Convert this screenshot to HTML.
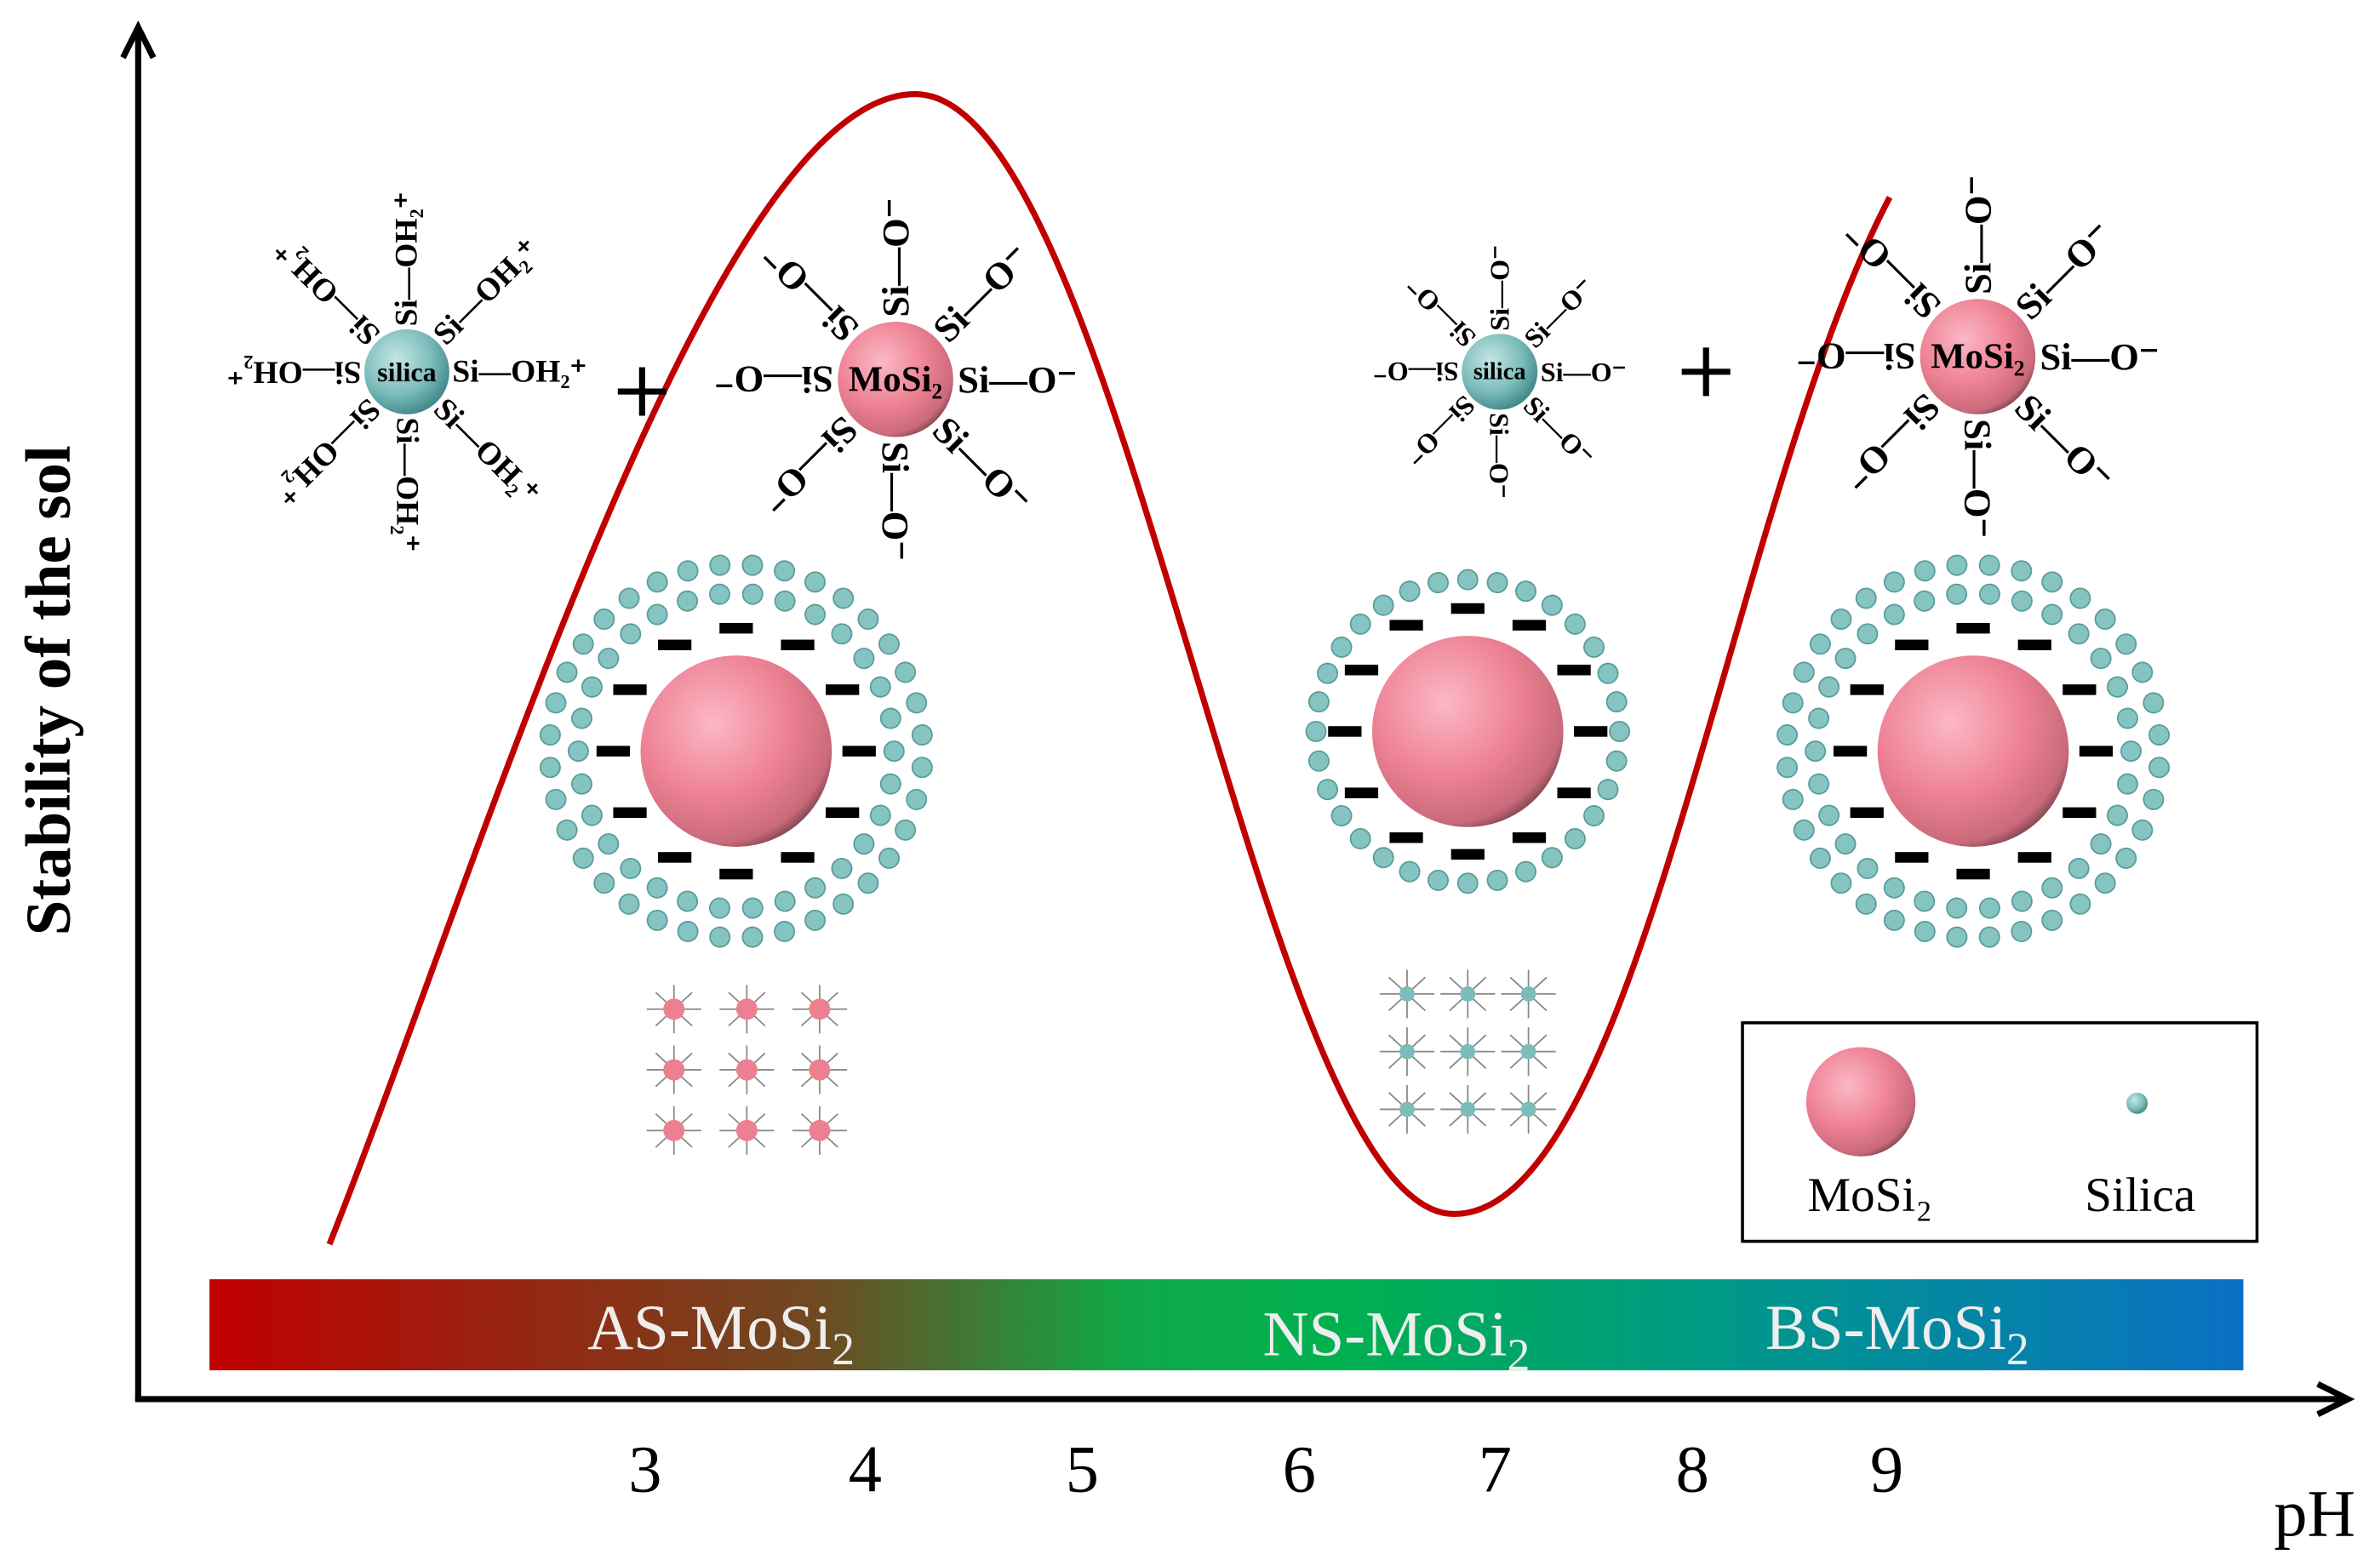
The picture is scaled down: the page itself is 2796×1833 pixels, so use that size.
<!DOCTYPE html>
<html><head><meta charset="utf-8">
<style>html,body{margin:0;padding:0;background:#fff}svg{display:block}
text{font-family:"Liberation Serif",serif}</style></head>
<body>
<svg xmlns="http://www.w3.org/2000/svg" xmlns:xlink="http://www.w3.org/1999/xlink" width="2796" height="1833" viewBox="0 0 1568 1028">
<defs>
<linearGradient id="bar" x1="0" x2="1" y1="0" y2="0">
<stop offset="0" stop-color="#c00000"/>
<stop offset="0.3" stop-color="#6e4a22"/>
<stop offset="0.45" stop-color="#10a848"/>
<stop offset="0.56" stop-color="#00b050"/>
<stop offset="0.76" stop-color="#00968c"/>
<stop offset="1" stop-color="#0a70c4"/>
</linearGradient>
<radialGradient id="pk" cx="0.38" cy="0.35" r="0.7">
<stop offset="0" stop-color="#fbb8c6"/>
<stop offset="0.55" stop-color="#ee8294"/>
<stop offset="0.9" stop-color="#c96a7a"/>
<stop offset="1" stop-color="#7e4450"/>
</radialGradient>
<radialGradient id="tl" cx="0.38" cy="0.35" r="0.7">
<stop offset="0" stop-color="#c4e6e4"/>
<stop offset="0.6" stop-color="#7bbcbb"/>
<stop offset="1" stop-color="#3e8486"/>
</radialGradient>
<circle id="dot" r="6.5" fill="#86c4c2" stroke="#5a9c9c" stroke-width="1"/>
<g id="r104">
<use href="#dot" transform="rotate(0) translate(104,0)"/><use href="#dot" transform="rotate(12) translate(104,0)"/><use href="#dot" transform="rotate(24) translate(104,0)"/><use href="#dot" transform="rotate(36) translate(104,0)"/><use href="#dot" transform="rotate(48) translate(104,0)"/><use href="#dot" transform="rotate(60) translate(104,0)"/><use href="#dot" transform="rotate(72) translate(104,0)"/><use href="#dot" transform="rotate(84) translate(104,0)"/><use href="#dot" transform="rotate(96) translate(104,0)"/><use href="#dot" transform="rotate(108) translate(104,0)"/><use href="#dot" transform="rotate(120) translate(104,0)"/><use href="#dot" transform="rotate(132) translate(104,0)"/><use href="#dot" transform="rotate(144) translate(104,0)"/><use href="#dot" transform="rotate(156) translate(104,0)"/><use href="#dot" transform="rotate(168) translate(104,0)"/><use href="#dot" transform="rotate(180) translate(104,0)"/><use href="#dot" transform="rotate(192) translate(104,0)"/><use href="#dot" transform="rotate(204) translate(104,0)"/><use href="#dot" transform="rotate(216) translate(104,0)"/><use href="#dot" transform="rotate(228) translate(104,0)"/><use href="#dot" transform="rotate(240) translate(104,0)"/><use href="#dot" transform="rotate(252) translate(104,0)"/><use href="#dot" transform="rotate(264) translate(104,0)"/><use href="#dot" transform="rotate(276) translate(104,0)"/><use href="#dot" transform="rotate(288) translate(104,0)"/><use href="#dot" transform="rotate(300) translate(104,0)"/><use href="#dot" transform="rotate(312) translate(104,0)"/><use href="#dot" transform="rotate(324) translate(104,0)"/><use href="#dot" transform="rotate(336) translate(104,0)"/><use href="#dot" transform="rotate(348) translate(104,0)"/>
</g>
<g id="r123">
<use href="#dot" transform="rotate(5) translate(123,0)"/><use href="#dot" transform="rotate(15) translate(123,0)"/><use href="#dot" transform="rotate(25) translate(123,0)"/><use href="#dot" transform="rotate(35) translate(123,0)"/><use href="#dot" transform="rotate(45) translate(123,0)"/><use href="#dot" transform="rotate(55) translate(123,0)"/><use href="#dot" transform="rotate(65) translate(123,0)"/><use href="#dot" transform="rotate(75) translate(123,0)"/><use href="#dot" transform="rotate(85) translate(123,0)"/><use href="#dot" transform="rotate(95) translate(123,0)"/><use href="#dot" transform="rotate(105) translate(123,0)"/><use href="#dot" transform="rotate(115) translate(123,0)"/><use href="#dot" transform="rotate(125) translate(123,0)"/><use href="#dot" transform="rotate(135) translate(123,0)"/><use href="#dot" transform="rotate(145) translate(123,0)"/><use href="#dot" transform="rotate(155) translate(123,0)"/><use href="#dot" transform="rotate(165) translate(123,0)"/><use href="#dot" transform="rotate(175) translate(123,0)"/><use href="#dot" transform="rotate(185) translate(123,0)"/><use href="#dot" transform="rotate(195) translate(123,0)"/><use href="#dot" transform="rotate(205) translate(123,0)"/><use href="#dot" transform="rotate(215) translate(123,0)"/><use href="#dot" transform="rotate(225) translate(123,0)"/><use href="#dot" transform="rotate(235) translate(123,0)"/><use href="#dot" transform="rotate(245) translate(123,0)"/><use href="#dot" transform="rotate(255) translate(123,0)"/><use href="#dot" transform="rotate(265) translate(123,0)"/><use href="#dot" transform="rotate(275) translate(123,0)"/><use href="#dot" transform="rotate(285) translate(123,0)"/><use href="#dot" transform="rotate(295) translate(123,0)"/><use href="#dot" transform="rotate(305) translate(123,0)"/><use href="#dot" transform="rotate(315) translate(123,0)"/><use href="#dot" transform="rotate(325) translate(123,0)"/><use href="#dot" transform="rotate(335) translate(123,0)"/><use href="#dot" transform="rotate(345) translate(123,0)"/><use href="#dot" transform="rotate(355) translate(123,0)"/>
</g>
<g id="r100">
<use href="#dot" transform="rotate(0) translate(100,0)"/><use href="#dot" transform="rotate(11.25) translate(100,0)"/><use href="#dot" transform="rotate(22.5) translate(100,0)"/><use href="#dot" transform="rotate(33.75) translate(100,0)"/><use href="#dot" transform="rotate(45) translate(100,0)"/><use href="#dot" transform="rotate(56.25) translate(100,0)"/><use href="#dot" transform="rotate(67.5) translate(100,0)"/><use href="#dot" transform="rotate(78.75) translate(100,0)"/><use href="#dot" transform="rotate(90) translate(100,0)"/><use href="#dot" transform="rotate(101.25) translate(100,0)"/><use href="#dot" transform="rotate(112.5) translate(100,0)"/><use href="#dot" transform="rotate(123.75) translate(100,0)"/><use href="#dot" transform="rotate(135) translate(100,0)"/><use href="#dot" transform="rotate(146.25) translate(100,0)"/><use href="#dot" transform="rotate(157.5) translate(100,0)"/><use href="#dot" transform="rotate(168.75) translate(100,0)"/><use href="#dot" transform="rotate(180) translate(100,0)"/><use href="#dot" transform="rotate(191.25) translate(100,0)"/><use href="#dot" transform="rotate(202.5) translate(100,0)"/><use href="#dot" transform="rotate(213.75) translate(100,0)"/><use href="#dot" transform="rotate(225) translate(100,0)"/><use href="#dot" transform="rotate(236.25) translate(100,0)"/><use href="#dot" transform="rotate(247.5) translate(100,0)"/><use href="#dot" transform="rotate(258.75) translate(100,0)"/><use href="#dot" transform="rotate(270) translate(100,0)"/><use href="#dot" transform="rotate(281.25) translate(100,0)"/><use href="#dot" transform="rotate(292.5) translate(100,0)"/><use href="#dot" transform="rotate(303.75) translate(100,0)"/><use href="#dot" transform="rotate(315) translate(100,0)"/><use href="#dot" transform="rotate(326.25) translate(100,0)"/><use href="#dot" transform="rotate(337.5) translate(100,0)"/><use href="#dot" transform="rotate(348.75) translate(100,0)"/>
</g>
<g id="dash" fill="#000">
<rect x="-11" y="-3.5" width="22" height="7" transform="translate(81,0)"/>
<rect x="-11" y="-3.5" width="22" height="7" transform="translate(70,40.5)"/>
<rect x="-11" y="-3.5" width="22" height="7" transform="translate(40.5,70)"/>
<rect x="-11" y="-3.5" width="22" height="7" transform="translate(0,81)"/>
<rect x="-11" y="-3.5" width="22" height="7" transform="translate(-40.5,70)"/>
<rect x="-11" y="-3.5" width="22" height="7" transform="translate(-70,40.5)"/>
<rect x="-11" y="-3.5" width="22" height="7" transform="translate(-81,0)"/>
<rect x="-11" y="-3.5" width="22" height="7" transform="translate(-70,-40.5)"/>
<rect x="-11" y="-3.5" width="22" height="7" transform="translate(-40.5,-70)"/>
<rect x="-11" y="-3.5" width="22" height="7" transform="translate(0,-81)"/>
<rect x="-11" y="-3.5" width="22" height="7" transform="translate(40.5,-70)"/>
<rect x="-11" y="-3.5" width="22" height="7" transform="translate(70,-40.5)"/>
</g>
<g id="miniA" stroke="#888" stroke-width="1">
<line x1="0" y1="0" x2="18" y2="0"/><line x1="0" y1="0" x2="-18" y2="0"/><line x1="0" y1="0" x2="0" y2="16"/><line x1="0" y1="0" x2="0" y2="-16"/>
<line x1="0" y1="0" x2="12" y2="11"/><line x1="0" y1="0" x2="-12" y2="11"/><line x1="0" y1="0" x2="12" y2="-11"/><line x1="0" y1="0" x2="-12" y2="-11"/>
</g>
<g id="miniP"><use href="#miniA"/><circle r="7" fill="#ec8090"/></g>
<g id="miniT"><use href="#miniA"/><circle r="5" fill="#7cbcbb"/></g>
<g id="grid3P">
<use href="#miniP" x="-48" y="-40"/><use href="#miniP" x="0" y="-40"/><use href="#miniP" x="48" y="-40"/>
<use href="#miniP" x="-48" y="0"/><use href="#miniP" x="0" y="0"/><use href="#miniP" x="48" y="0"/>
<use href="#miniP" x="-48" y="40"/><use href="#miniP" x="0" y="40"/><use href="#miniP" x="48" y="40"/>
</g>
<g id="grid3T">
<use href="#miniT" x="-40" y="-38"/><use href="#miniT" x="0" y="-38"/><use href="#miniT" x="40" y="-38"/>
<use href="#miniT" x="-40" y="0"/><use href="#miniT" x="0" y="0"/><use href="#miniT" x="40" y="0"/>
<use href="#miniT" x="-40" y="38"/><use href="#miniT" x="0" y="38"/><use href="#miniT" x="40" y="38"/>
</g>
<g id="armsOH" font-size="21" font-weight="bold" dominant-baseline="central">
<text x="30" y="0" transform="rotate(0)">Si—OH₂⁺</text><text x="30" y="0" transform="rotate(45)">Si—OH₂⁺</text>
<text x="30" y="0" transform="rotate(90)">Si—OH₂⁺</text><text x="30" y="0" transform="rotate(135)">Si—OH₂⁺</text>
<text x="30" y="0" transform="rotate(180)">Si—OH₂⁺</text><text x="30" y="0" transform="rotate(225)">Si—OH₂⁺</text>
<text x="30" y="0" transform="rotate(270)">Si—OH₂⁺</text><text x="30" y="0" transform="rotate(315)">Si—OH₂⁺</text>
</g>
<g id="armsO" font-size="25" font-weight="bold" dominant-baseline="central">
<text x="41" y="0" transform="rotate(0)">Si—O⁻</text><text x="41" y="0" transform="rotate(45)">Si—O⁻</text>
<text x="41" y="0" transform="rotate(90)">Si—O⁻</text><text x="41" y="0" transform="rotate(135)">Si—O⁻</text>
<text x="41" y="0" transform="rotate(180)">Si—O⁻</text><text x="41" y="0" transform="rotate(225)">Si—O⁻</text>
<text x="41" y="0" transform="rotate(270)">Si—O⁻</text><text x="41" y="0" transform="rotate(315)">Si—O⁻</text>
</g>
<g id="armsOs" font-size="18" font-weight="bold" dominant-baseline="central">
<text x="27" y="0" transform="rotate(0)">Si—O⁻</text><text x="27" y="0" transform="rotate(45)">Si—O⁻</text>
<text x="27" y="0" transform="rotate(90)">Si—O⁻</text><text x="27" y="0" transform="rotate(135)">Si—O⁻</text>
<text x="27" y="0" transform="rotate(180)">Si—O⁻</text><text x="27" y="0" transform="rotate(225)">Si—O⁻</text>
<text x="27" y="0" transform="rotate(270)">Si—O⁻</text><text x="27" y="0" transform="rotate(315)">Si—O⁻</text>
</g>
</defs>

<!-- axes -->
<line x1="91" y1="922" x2="91" y2="22" stroke="#000" stroke-width="4"/>
<path d="M81,38 L91,18 L101,38" fill="none" stroke="#000" stroke-width="4"/>
<line x1="89" y1="922" x2="1543" y2="922" stroke="#000" stroke-width="4"/>
<path d="M1527,912 L1547,922 L1527,932" fill="none" stroke="#000" stroke-width="4"/>
<text transform="translate(46,455) rotate(-90)" text-anchor="middle" font-size="42" font-weight="bold">Stability of the sol</text>

<!-- bar -->
<rect x="138" y="843" width="1340" height="60" fill="url(#bar)"/>
<text x="475" y="889" text-anchor="middle" font-size="42" fill="#eee">AS-MoSi<tspan font-size="30" dy="10">2</tspan></text>
<text x="920" y="893" text-anchor="middle" font-size="42" fill="#eee">NS-MoSi<tspan font-size="30" dy="10">2</tspan></text>
<text x="1250" y="889" text-anchor="middle" font-size="42" fill="#eee">BS-MoSi<tspan font-size="30" dy="10">2</tspan></text>

<!-- ticks -->
<g font-size="44" text-anchor="middle">
<text x="425" y="983">3</text><text x="570" y="983">4</text><text x="713" y="983">5</text>
<text x="856" y="983">6</text><text x="985" y="983">7</text><text x="1115" y="983">8</text>
<text x="1243" y="983">9</text><text x="1525" y="1012">pH</text></g>

<!-- curve -->
<path d="M217,820 C320,560 470,62 603,62 C740,62 830,800 958,800 C1080,800 1140,330 1245,130" fill="none" stroke="#c00000" stroke-width="4"/>

<!-- molecules -->
<circle cx="268" cy="245" r="28" fill="url(#tl)"/>
<text x="268" y="245" text-anchor="middle" dominant-baseline="central" font-size="18" font-weight="bold">silica</text>
<use href="#armsOH" transform="translate(268,245)"/>

<circle cx="590" cy="250" r="38" fill="url(#pk)"/>
<text x="590" y="250" text-anchor="middle" dominant-baseline="central" font-size="24" font-weight="bold">MoSi₂</text>
<use href="#armsO" transform="translate(590,250)"/>

<circle cx="988" cy="245" r="25" fill="url(#tl)"/>
<text x="988" y="245" text-anchor="middle" dominant-baseline="central" font-size="16" font-weight="bold">silica</text>
<use href="#armsOs" transform="translate(988,245)"/>

<circle cx="1303" cy="235" r="38" fill="url(#pk)"/>
<text x="1303" y="235" text-anchor="middle" dominant-baseline="central" font-size="24" font-weight="bold">MoSi₂</text>
<use href="#armsO" transform="translate(1303,235)"/>

<!-- plus signs -->
<path d="M407,258 h32 M423,242 v32" stroke="#000" stroke-width="4"/>
<path d="M1108,245 h32 M1124,229 v32" stroke="#000" stroke-width="4"/>

<!-- particles -->
<use href="#r104" transform="translate(485,495)"/><use href="#r123" transform="translate(485,495)"/>
<circle cx="485" cy="495" r="63" fill="url(#pk)"/><use href="#dash" transform="translate(485,495)"/>

<use href="#r100" transform="translate(967,482)"/>
<circle cx="967" cy="482" r="63" fill="url(#pk)"/><use href="#dash" transform="translate(967,482)"/>

<use href="#r104" transform="translate(1300,495)"/><use href="#r123" transform="translate(1300,495)"/>
<circle cx="1300" cy="495" r="63" fill="url(#pk)"/><use href="#dash" transform="translate(1300,495)"/>

<use href="#grid3P" transform="translate(492,705)"/>
<use href="#grid3T" transform="translate(967,693)"/>

<!-- legend -->
<rect x="1148" y="674" width="339" height="144" fill="#fff" stroke="#000" stroke-width="2"/>
<circle cx="1226" cy="726" r="36" fill="url(#pk)"/>
<circle cx="1408" cy="727" r="7" fill="url(#tl)"/>
<text x="1232" y="798" text-anchor="middle" font-size="32">MoSi₂</text>
<text x="1410" y="798" text-anchor="middle" font-size="32">Silica</text>
</svg>
</body></html>
